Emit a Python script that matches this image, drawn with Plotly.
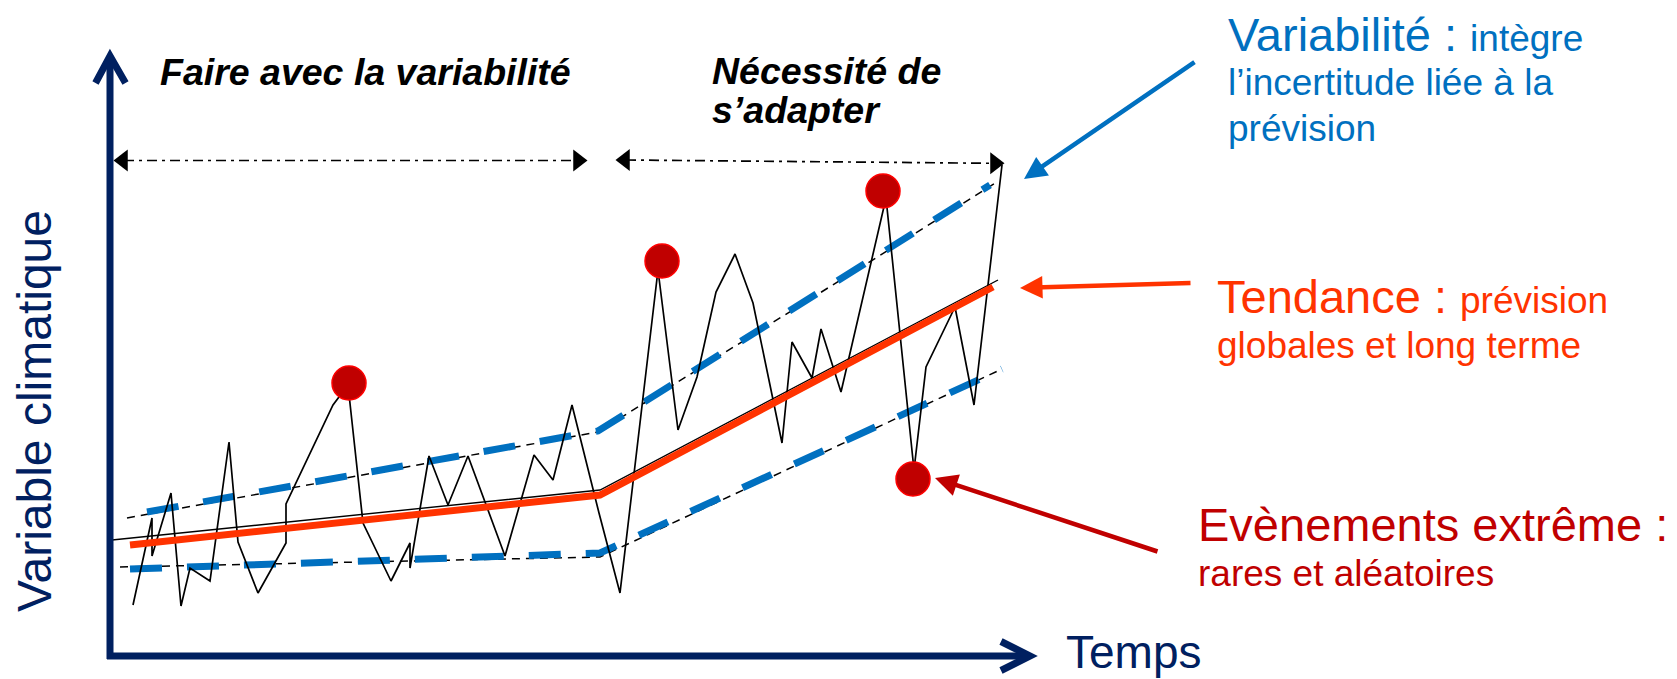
import plotly.graph_objects as go

# ---- data (time on x, climate variable on y) ----
serie_t = [133, 152, 152, 171, 181, 190, 210, 229, 238, 258, 286, 286, 333, 348, 363,
           391, 410, 410, 429, 448, 468, 505, 534, 553, 572, 599, 620, 658, 678, 697,
           716, 735, 753, 782, 792, 812, 821, 841, 886, 914, 926, 955, 974, 1002]
serie_v = [74, 161, 123, 186, 73, 111, 98, 237, 137, 86, 136, 175, 274, 294, 156,
           98, 136, 111, 223, 174, 223, 123, 224, 199, 274, 166, 86, 409, 249, 302,
           387, 425, 376, 236, 337, 301, 350, 287, 481, 209, 312, 372, 274, 514]

extreme_t = [349, 662, 883, 913]
extreme_v = [296, 418, 488, 200]

tendance_t = [130, 600, 993]
tendance_v = [134, 184, 392]
tendance_fine_t = [112, 600, 998]
tendance_fine_v = [139, 189, 399]

haut_t = [147, 598, 990]
haut_v = [167, 248, 494]
haut_fin_t = [127, 598, 997]
haut_fin_v = [161, 247, 497]

bas_t = [130, 600, 1002]
bas_v = [110, 126, 310]
bas_fin_t = [120, 600, 1002]
bas_fin_v = [112, 122, 310]

periode1_t = [115, 586]
periode1_v = [518.5, 518.5]
periode2_t = [617, 1003]
periode2_v = [519, 515.7]

NAVY = "#002060"
BLUE = "#0070C0"
ORANGE = "#FF3300"
DARKRED = "#C00000"
FONT = "Liberation Sans, Arial, sans-serif"

fig = go.Figure()

def line(x, y, color, width, dash="solid"):
    fig.add_trace(go.Scatter(x=x, y=y, mode="lines",
                             line=dict(color=color, width=width, dash=dash),
                             hoverinfo="skip", showlegend=False))

# envelopes
line(haut_fin_t, haut_fin_v, "black", 1.5, "8px,6px")
line(bas_fin_t, bas_fin_v, "black", 1.5, "8px,6px")
line(haut_t, haut_v, BLUE, 7, "32px,25px")
line(bas_t, bas_v, BLUE, 7, "32px,25px")
# series
line(serie_t, serie_v, "black", 1.7)
line(tendance_fine_t, tendance_fine_v, "black", 1.4)
line(tendance_t, tendance_v, ORANGE, 7)
# extremes
fig.add_trace(go.Scatter(x=extreme_t, y=extreme_v, mode="markers",
                         marker=dict(size=34, color=DARKRED, line=dict(color="#FF0000", width=1.5)),
                         hoverinfo="skip", showlegend=False))

# period arrows (dash-dot with triangle heads)
for pt, pv in [(periode1_t, periode1_v), (periode2_t, periode2_v)]:
    line([pt[0] + 9, pt[1] - 9], pv, "black", 1.7, "10px,5px,3px,5px")
    fig.add_trace(go.Scatter(x=[pt[0] + 8], y=[pv[0]], mode="markers",
                             marker=dict(symbol="triangle-left", size=19, color="black"),
                             hoverinfo="skip", showlegend=False))
    fig.add_trace(go.Scatter(x=[pt[1] - 8], y=[pv[1]], mode="markers",
                             marker=dict(symbol="triangle-right", size=19, color="black"),
                             hoverinfo="skip", showlegend=False))

# axes (arrows)
shapes = [
    dict(type="line", x0=110, y0=20, x1=110, y1=623, line=dict(color=NAVY, width=7)),
    dict(type="line", x0=107, y0=23, x1=1029, y1=23, line=dict(color=NAVY, width=7)),
    dict(type="path", path="M 95.5 596 L 110 623 L 125.5 596", line=dict(color=NAVY, width=7)),
    dict(type="path", path="M 1001 37.5 L 1030 23 L 1001 8.5", line=dict(color=NAVY, width=7)),
]
fig.update_layout(shapes=shapes)

ann = []
def text(x, y, t, size, color, xanchor="left", angle=0):
    ann.append(dict(x=x, y=y, xref="x", yref="y", text=t, showarrow=False,
                    xanchor=xanchor, yanchor="middle", textangle=angle,
                    font=dict(family=FONT, size=size, color=color)))

text(158, 607, "<b><i>Faire avec la variabilité</i></b>", 37.5, "black")
text(710, 608, "<b><i>Nécessité de</i></b>", 37.5, "black")
text(710, 569, "<b><i>s’adapter</i></b>", 37.5, "black")
text(34, 268, "Variable climatique", 48, NAVY, xanchor="center", angle=-90)
text(1064, 27, "Temps", 46, NAVY)

text(1226, 645, "Variabilité : <span style='font-size:37px'>intègre</span>", 47, BLUE)
text(1226, 597, "l’incertitude liée à la", 37, BLUE)
text(1226, 551, "prévision", 37, BLUE)
text(1215, 383, "Tendance : <span style='font-size:37px'>prévision</span>", 47, ORANGE)
text(1215, 334, "globales et long terme", 37, ORANGE)
text(1196, 155, "Evènements extrême :", 47, DARKRED)
text(1196, 106, "rares et aléatoires", 37, DARKRED)

def arrow(xt, yt, xs, ys, color):
    ann.append(dict(x=xt, y=yt, ax=xs, ay=ys, xref="x", yref="y", axref="x", ayref="y",
                    text="", showarrow=True, arrowhead=2, arrowsize=1, arrowwidth=4.5,
                    arrowcolor=color))

arrow(1024, 500, 1196, 618, BLUE)
arrow(1020, 391, 1192, 396, ORANGE)
arrow(935, 201, 1159, 127, DARKRED)

fig.update_layout(
    annotations=ann,
    width=1677, height=679,
    margin=dict(l=0, r=0, t=0, b=0),
    paper_bgcolor="white", plot_bgcolor="white",
    xaxis=dict(range=[0, 1677], visible=False, fixedrange=True),
    yaxis=dict(range=[0, 679], visible=False, fixedrange=True),
    showlegend=False,
)

fig.write_html("out.html",
               config={"displayModeBar": False},
               post_script="document.body.style.margin='0';document.body.style.overflow='hidden';")
